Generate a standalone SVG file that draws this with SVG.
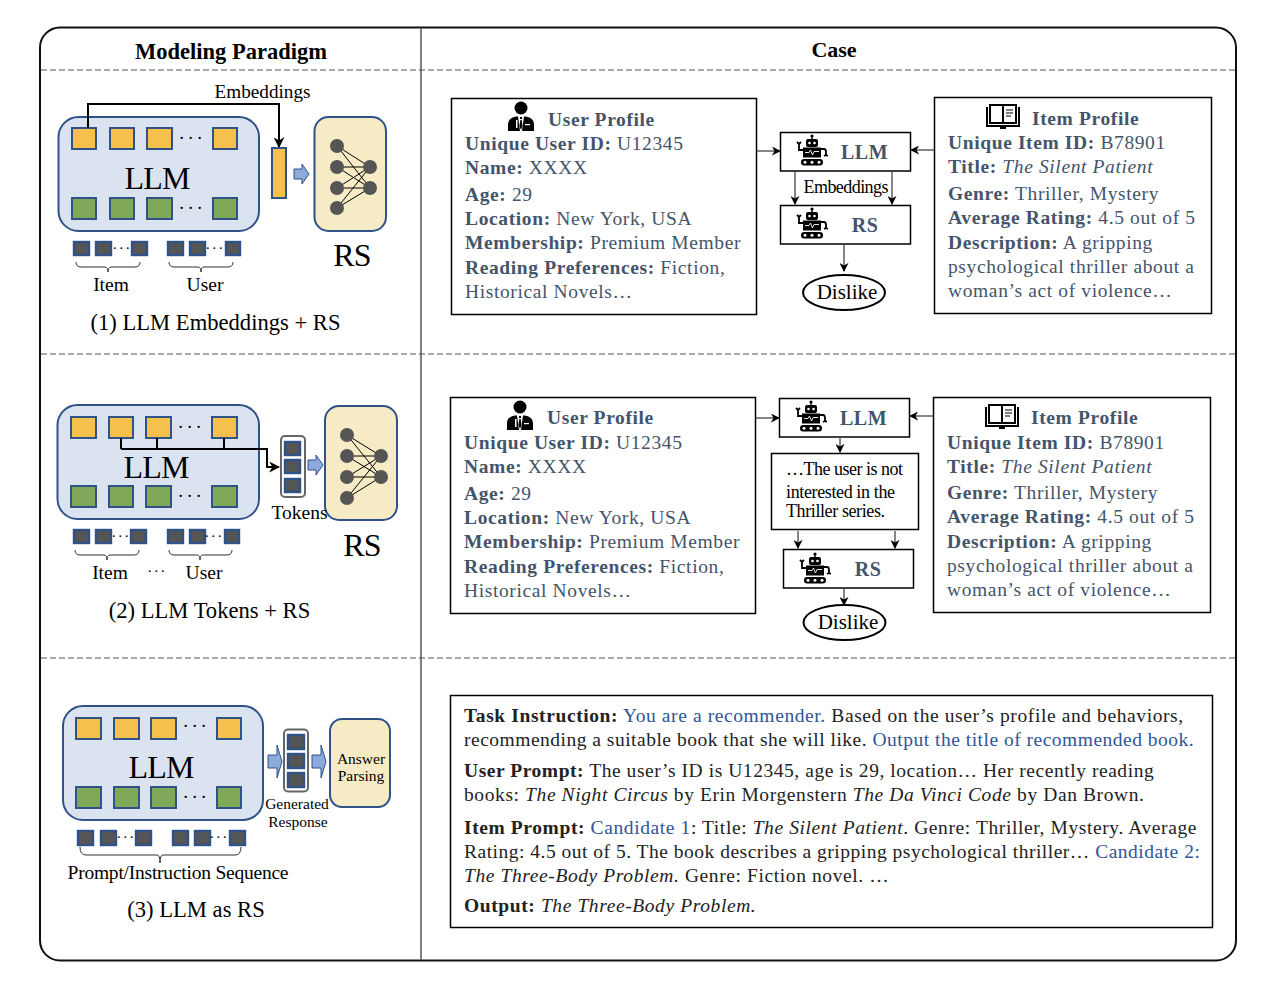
<svg xmlns="http://www.w3.org/2000/svg" xmlns:xlink="http://www.w3.org/1999/xlink" width="1272" height="1004" viewBox="0 0 1272 1004">
<style>
text{font-family:"Liberation Serif","Times New Roman",serif;fill:#000}
.frame{fill:none;stroke:#111;stroke-width:2}
.dash{fill:none;stroke:#555;stroke-width:1.2;stroke-dasharray:6 3}
.div{fill:none;stroke:#555;stroke-width:1.5}
.llm{fill:#dce3f0;stroke:#2f5288;stroke-width:2}
.rs{fill:#f7ebc6;stroke:#2f5288;stroke-width:2}
.o{fill:#f5c04c;stroke:#2f5288;stroke-width:2}
.g{fill:#7fa858;stroke:#2f5288;stroke-width:2}
.s{fill:#555;stroke:#2f5288;stroke-width:2.4}
.st{fill:#fff;stroke:#666;stroke-width:2}
.ba{fill:#8ea9db;stroke:#2f5288;stroke-width:1}
.box{fill:#fff;stroke:#000;stroke-width:1.5}
.ell{fill:#fff;stroke:#000;stroke-width:2}
.ln{fill:none;stroke:#000;stroke-width:2}
.th{fill:none;stroke:#000;stroke-width:1}
.gl{fill:none;stroke:#444;stroke-width:1.3}
.br{fill:none;stroke:#333;stroke-width:1}
.n{fill:#555}
.big{font-size:32px;letter-spacing:-.8px}
.lab{font-size:19.5px}
.cap{font-size:22.6px}
.dots{font-size:19px;letter-spacing:2.6px}
.sd{font-size:15px;letter-spacing:1.5px}
.hd{font-size:22.5px;font-weight:bold}
.p{font-size:19.5px;letter-spacing:.62px;fill:#44546a}
.p tspan.b,.pb{font-weight:bold}
.m{font-size:20px;font-weight:bold;fill:#44546a;letter-spacing:.5px}
.c{font-size:19.5px;letter-spacing:.6px;fill:#222}
.c5{letter-spacing:.5px}
.c55{letter-spacing:.55px}
.c tspan.b{font-weight:bold}
.c tspan.u{fill:#2f5597}
.c tspan.i,.p tspan.i{font-style:italic}
.t{text-anchor:middle}
</style>
<defs>
<marker id="a" viewBox="0 0 10 10" refX="9" refY="5" markerWidth="9" markerHeight="9" orient="auto" markerUnits="userSpaceOnUse"><path d="M0 0L10 5L0 10L3 5Z" fill="#000"/></marker>
<marker id="ab" viewBox="0 0 10 10" refX="9" refY="5" markerWidth="11" markerHeight="11" orient="auto" markerUnits="userSpaceOnUse"><path d="M0 0L10 5L0 10L3 5Z" fill="#000"/></marker>
<path id="arr" class="ba" d="M0 5H8V0L15 10L8 20V15H0Z"/>
<path id="arrt" class="ba" d="M0 10H9V0L14 16.500L9 33V23H0Z"/>
<symbol id="robot" viewBox="0 0 32 32">
<circle cx="16" cy="2" r="1.600" fill="#000"/><rect x="15.300" y="2" width="1.400" height="3" fill="#000"/>
<rect x="10" y="5" width="12" height="8" rx="2" fill="#000"/><circle cx="13.500" cy="9" r="1.300" fill="#fff"/><circle cx="18.500" cy="9" r="1.300" fill="#fff"/>
<rect x="7" y="13.500" width="18" height="10" fill="#000"/>
<path d="M9 18.500h4l1.500-2.500 2 5 1.500-3.500h5" fill="none" stroke="#fff" stroke-width=".9"/>
<path d="M7 16H3V10M1 8l2 2 2-2M25 15h3q2 0 2 3v3M28 22l2-1 2 1" fill="none" stroke="#000" stroke-width="1.800"/>
<rect x="5" y="25" width="22" height="6.500" rx="3.250" fill="#000"/>
<circle cx="9" cy="28.250" r="1.500" fill="#fff"/><circle cx="16" cy="28.250" r="1.500" fill="#fff"/><circle cx="23" cy="28.250" r="1.500" fill="#fff"/>
</symbol>
<symbol id="user" viewBox="0 0 28 30">
<circle cx="14" cy="7" r="6.500" fill="#000"/>
<path d="M1 30V23Q1 17 9 15.500L11 15.500L13 30ZM27 30V23Q27 17 19 15.500L17 15.500L15 30Z" fill="#000"/>
<rect x="13" y="16" width="2" height="2" fill="#000"/><path d="M13.300 19h1.400l.8 6-1.500 4-1.500-4z" fill="#000"/>
<rect x="18" y="23" width="5" height="1.200" fill="#fff"/><rect x="9" y="19" width="1.500" height="8" fill="#fff"/>
</symbol>
<symbol id="book" viewBox="0 0 34 25">
<path d="M1 3V22H33V3" fill="none" stroke="#000" stroke-width="2"/>
<rect x="4" y="1" width="13" height="18" fill="#fff" stroke="#000" stroke-width="2"/>
<rect x="17" y="1" width="13" height="18" fill="#fff" stroke="#000" stroke-width="2"/>
<path d="M20 6h7M20 9h7M20 12h5" stroke="#555" stroke-width="1.500" fill="none"/>
<rect x="14" y="22" width="6" height="3" fill="#000"/>
</symbol>
</defs>

<g id="frame">
<rect class="frame" x="40" y="27.500" width="1196" height="933" rx="20"/>
<path class="div" d="M421 28V960"/>
<path class="dash" d="M41 70H1235M41 354H1235M41 658H1235"/>
<text class="hd t" x="231" y="59">Modeling Paradigm</text>
<text class="hd t" x="834" y="57" style="font-size:22px">Case</text>
</g>

<g id="paradigm-1">
<rect class="llm" x="58.500" y="117" width="200.500" height="114" rx="20"/>
<rect class="o" x="72" y="128" width="24" height="21"/><rect class="o" x="110" y="128" width="24" height="21"/><rect class="o" x="147" y="128" width="25" height="21"/><rect class="o" x="213" y="128" width="24" height="21"/>
<rect class="g" x="72" y="198" width="24" height="21"/><rect class="g" x="110" y="198" width="24" height="21"/><rect class="g" x="147" y="198" width="25" height="21"/><rect class="g" x="213" y="198" width="24" height="21"/>
<text class="dots t" x="192" y="144">···</text><text class="dots t" x="192" y="214">···</text>
<text class="big t" x="157" y="189">LLM</text>
<path class="ln" d="M88 128V104H279V147" marker-end="url(#ab)"/>
<text class="lab t" x="262.500" y="98" style="font-size:19.200px">Embeddings</text>
<rect class="o" x="272" y="148" width="14" height="50"/>
<use href="#arr" x="294" y="164"/>
<rect class="rs" x="314.500" y="117" width="71.500" height="114" rx="14"/>
<path class="th" d="M337 146L370 167M337 146L370 188M337 167L370 167M337 167L370 188M337 188L370 167M337 188L370 188M337 208L370 167M337 208L370 188"/>
<circle class="n" cx="337" cy="146" r="7"/><circle class="n" cx="337" cy="167" r="7"/><circle class="n" cx="337" cy="188" r="7"/><circle class="n" cx="337" cy="208" r="7"/><circle class="n" cx="370" cy="167" r="7"/><circle class="n" cx="370" cy="188" r="7"/>
<text class="big t" x="352" y="266">RS</text>
<rect class="s" x="74" y="242" width="15" height="13"/><rect class="s" x="96" y="242" width="15" height="13"/><rect class="s" x="132" y="242" width="15" height="13"/>
<rect class="s" x="168" y="242" width="15" height="13"/><rect class="s" x="190" y="242" width="15" height="13"/><rect class="s" x="226" y="242" width="14" height="13"/>
<text class="sd t" x="122" y="253">···</text><text class="sd t" x="215" y="253">···</text>
<path class="br" d="M76 262q0 5 5 5H105q3 0 3 5q0-5 3-5H135q5 0 5-5M169 262q0 5 5 5H198q3 0 3 5q0-5 3-5H228q5 0 5-5"/>
<text class="lab t" x="111" y="291">Item</text><text class="lab t" x="205" y="291">User</text>
<text class="cap t" x="215.500" y="330">(1) LLM Embeddings + RS</text>
</g>

<g id="paradigm-2">
<rect class="llm" x="57.500" y="405" width="201.500" height="114" rx="20"/>
<rect class="o" x="71" y="417" width="25" height="21"/><rect class="o" x="109" y="417" width="24" height="21"/><rect class="o" x="146" y="417" width="25" height="21"/><rect class="o" x="212" y="417" width="25" height="21"/>
<rect class="g" x="71" y="486" width="25" height="21"/><rect class="g" x="109" y="486" width="24" height="21"/><rect class="g" x="146" y="486" width="25" height="21"/><rect class="g" x="212" y="486" width="25" height="21"/>
<text class="dots t" x="191" y="433">···</text><text class="dots t" x="191" y="502">···</text>
<text class="big t" x="156" y="478">LLM</text>
<path class="ln" d="M121 438V449M157 438V449M224 438V449M121 449H267V467H279" marker-end="url(#ab)"/>
<rect class="st" x="281" y="436" width="24" height="61" rx="4"/>
<rect class="s" x="285" y="442" width="15" height="13"/><rect class="s" x="285" y="460" width="15" height="13"/><rect class="s" x="285" y="479" width="15" height="13"/>
<use href="#arr" x="308" y="455"/>
<rect class="rs" x="325" y="406" width="72" height="114" rx="14"/>
<path class="th" d="M347 435L381 456M347 435L381 477M347 456L381 456M347 456L381 477M347 477L381 456M347 477L381 477M347 498L381 456M347 498L381 477"/>
<circle class="n" cx="347" cy="435" r="7"/><circle class="n" cx="347" cy="456" r="7"/><circle class="n" cx="347" cy="477" r="7"/><circle class="n" cx="347" cy="498" r="7"/><circle class="n" cx="381" cy="456" r="7"/><circle class="n" cx="381" cy="477" r="7"/>
<text class="lab t" x="299.500" y="519">Tokens</text>
<text class="big t" x="362" y="556">RS</text>
<rect class="s" x="74" y="530" width="15" height="13"/><rect class="s" x="96" y="530" width="15" height="13"/><rect class="s" x="131" y="530" width="15" height="13"/>
<rect class="s" x="168" y="530" width="15" height="13"/><rect class="s" x="190" y="530" width="15" height="13"/><rect class="s" x="225" y="530" width="14" height="13"/>
<text class="sd t" x="121" y="541">···</text><text class="sd t" x="214" y="541">···</text>
<path class="br" d="M75 550q0 5 5 5H104q3 0 3 5q0-5 3-5H134q5 0 5-5M169 550q0 5 5 5H197q3 0 3 5q0-5 3-5H227q5 0 5-5"/>
<text class="lab t" x="110" y="579">Item</text><text class="sd t" x="157" y="576">···</text><text class="lab t" x="204" y="579">User</text>
<text class="cap t" x="209.500" y="618">(2) LLM Tokens + RS</text>
</g>

<g id="paradigm-3">
<rect class="llm" x="63" y="706" width="200" height="114" rx="20"/>
<rect class="o" x="76" y="718" width="25" height="21"/><rect class="o" x="114" y="718" width="25" height="21"/><rect class="o" x="151" y="718" width="25" height="21"/><rect class="o" x="217" y="718" width="24" height="21"/>
<rect class="g" x="76" y="787" width="25" height="21"/><rect class="g" x="114" y="787" width="25" height="21"/><rect class="g" x="151" y="787" width="25" height="21"/><rect class="g" x="217" y="787" width="24" height="21"/>
<text class="dots t" x="196" y="732">···</text><text class="dots t" x="196" y="803">···</text>
<text class="big t" x="161" y="778">LLM</text>
<use href="#arrt" x="268" y="745"/>
<rect class="st" x="284" y="729.500" width="24" height="62" rx="4"/>
<rect class="s" x="288" y="735" width="16" height="14"/><rect class="s" x="288" y="754" width="16" height="14"/><rect class="s" x="288" y="773" width="16" height="14"/>
<use href="#arrt" x="312" y="745"/>
<rect class="rs" x="330" y="719" width="60" height="88" rx="12"/>
<text class="t" x="361" y="764" style="font-size:15.500px">Answer</text><text class="t" x="361" y="781" style="font-size:15.500px">Parsing</text>
<text class="t" x="297" y="809" style="font-size:15.500px">Generated</text><text class="t" x="298" y="827" style="font-size:15.500px">Response</text>
<rect class="s" x="78" y="831" width="15" height="14"/><rect class="s" x="101" y="831" width="15" height="14"/><rect class="s" x="136" y="831" width="15" height="14"/>
<rect class="s" x="173" y="831" width="15" height="14"/><rect class="s" x="195" y="831" width="15" height="14"/><rect class="s" x="230" y="831" width="15" height="14"/>
<text class="sd t" x="126" y="842">···</text><text class="sd t" x="219" y="842">···</text>
<path class="br" d="M80 847q0 8 6 8H157q3 0 3 8q0-8 3-8H235q6 0 6-8"/>
<text class="lab t" x="178" y="879" textLength="221">Prompt/Instruction Sequence</text>
<text class="cap t" x="196" y="917">(3) LLM as RS</text>
</g>

<g id="user-profile-1">
<rect class="box" x="451.500" y="98.500" width="305" height="216"/>
<use href="#user" x="507" y="101" width="28" height="30"/>
<text class="p pb" x="548" y="126">User Profile</text>
<text class="p" x="465" y="150"><tspan class="b">Unique User ID:</tspan> U12345</text>
<text class="p" x="465" y="174"><tspan class="b">Name:</tspan> XXXX</text>
<text class="p" x="465" y="201"><tspan class="b">Age:</tspan> 29</text>
<text class="p" x="465" y="225"><tspan class="b">Location:</tspan> New York, USA</text>
<text class="p" x="465" y="249"><tspan class="b">Membership:</tspan> Premium Member</text>
<text class="p" x="465" y="274"><tspan class="b">Reading Preferences:</tspan> Fiction,</text>
<text class="p" x="465" y="298">Historical Novels…</text>
</g>
<g id="item-profile-1">
<rect class="box" x="934.500" y="97.500" width="277" height="216"/>
<use href="#book" x="986" y="104" width="34" height="25"/>
<text class="p pb" x="1032" y="125">Item Profile</text>
<text class="p" x="948" y="149"><tspan class="b">Unique Item ID:</tspan> B78901</text>
<text class="p" x="948" y="173"><tspan class="b">Title:</tspan> <tspan class="i">The Silent Patient</tspan></text>
<text class="p" x="948" y="200"><tspan class="b">Genre:</tspan> Thriller, Mystery</text>
<text class="p" x="948" y="224"><tspan class="b">Average Rating:</tspan> 4.5 out of 5</text>
<text class="p" x="948" y="249"><tspan class="b">Description:</tspan> A gripping</text>
<text class="p" x="948" y="273">psychological thriller about a</text>
<text class="p" x="948" y="297">woman’s act of violence…</text>
</g>
<g id="llm-1"><rect class="box" x="780.500" y="132.500" width="130" height="38.500"/><use href="#robot" x="796" y="134" width="32" height="32"/><text class="m t" x="864.500" y="159">LLM</text></g>
<g id="rs-1"><rect class="box" x="780.500" y="205.500" width="130" height="38.500"/><use href="#robot" x="796" y="207" width="32" height="32"/><text class="m t" x="865" y="232">RS</text></g>
<g id="dislike-1"><ellipse class="ell" cx="844" cy="292.500" rx="41" ry="17.500"/><text class="t" x="847" y="299" style="font-size:21px">Dislike</text></g>
<g id="connectors-1">
<path class="gl" d="M757 151H780" marker-end="url(#a)"/>
<path class="gl" d="M934 150H911" marker-end="url(#a)"/>
<path class="gl" d="M795 171V204" marker-end="url(#a)"/>
<path class="gl" d="M892 171V204" marker-end="url(#a)"/>
<path class="gl" d="M844 244V271" marker-end="url(#a)"/>
<text class="t" x="846" y="193" style="font-size:18px" textLength="85">Embeddings</text>
</g>

<g id="user-profile-2">
<rect class="box" x="450.500" y="397.500" width="305" height="216"/>
<use href="#user" x="506" y="400" width="28" height="30"/>
<text class="p pb" x="547" y="424">User Profile</text>
<text class="p" x="464" y="449"><tspan class="b">Unique User ID:</tspan> U12345</text>
<text class="p" x="464" y="473"><tspan class="b">Name:</tspan> XXXX</text>
<text class="p" x="464" y="500"><tspan class="b">Age:</tspan> 29</text>
<text class="p" x="464" y="524"><tspan class="b">Location:</tspan> New York, USA</text>
<text class="p" x="464" y="548"><tspan class="b">Membership:</tspan> Premium Member</text>
<text class="p" x="464" y="573"><tspan class="b">Reading Preferences:</tspan> Fiction,</text>
<text class="p" x="464" y="597">Historical Novels…</text>
</g>
<g id="item-profile-2">
<rect class="box" x="933.500" y="397.500" width="277" height="215"/>
<use href="#book" x="985" y="404" width="34" height="25"/>
<text class="p pb" x="1031" y="424">Item Profile</text>
<text class="p" x="947" y="449"><tspan class="b">Unique Item ID:</tspan> B78901</text>
<text class="p" x="947" y="473"><tspan class="b">Title:</tspan> <tspan class="i">The Silent Patient</tspan></text>
<text class="p" x="947" y="499"><tspan class="b">Genre:</tspan> Thriller, Mystery</text>
<text class="p" x="947" y="523"><tspan class="b">Average Rating:</tspan> 4.5 out of 5</text>
<text class="p" x="947" y="548"><tspan class="b">Description:</tspan> A gripping</text>
<text class="p" x="947" y="572">psychological thriller about a</text>
<text class="p" x="947" y="596">woman’s act of violence…</text>
</g>
<g id="llm-2"><rect class="box" x="779.500" y="398.500" width="130" height="38.500"/><use href="#robot" x="795" y="400" width="32" height="32"/><text class="m t" x="863.500" y="425">LLM</text></g>
<g id="text-2"><rect class="box" x="771.500" y="453.500" width="147" height="76"/>
<text x="786" y="475" style="font-size:18px" textLength="117">…The user is not</text>
<text x="786" y="498" style="font-size:18px" textLength="109">interested in the</text>
<text x="786" y="517" style="font-size:18px" textLength="99">Thriller series.</text></g>
<g id="rs-2"><rect class="box" x="783.500" y="549.500" width="130" height="38.500"/><use href="#robot" x="799" y="552" width="32" height="32"/><text class="m t" x="868" y="576">RS</text></g>
<g id="dislike-2"><ellipse class="ell" cx="844.500" cy="622.500" rx="41" ry="17.500"/><text class="t" x="848" y="629" style="font-size:21px">Dislike</text></g>
<g id="connectors-2">
<path class="gl" d="M756 418H779" marker-end="url(#a)"/>
<path class="gl" d="M933 416H910" marker-end="url(#a)"/>
<path class="gl" d="M840 437V452" marker-end="url(#a)"/>
<path class="gl" d="M798 531V548" marker-end="url(#a)"/>
<path class="gl" d="M895 531V548" marker-end="url(#a)"/>
<path class="gl" d="M844 588V605" marker-end="url(#a)"/>
</g>

<g id="prompt">
<rect class="box" x="450.500" y="695.500" width="762" height="232"/>
<text class="c" x="464" y="722"><tspan class="b">Task Instruction:</tspan> <tspan class="u">You are a recommender.</tspan> Based on the user’s profile and behaviors,</text>
<text class="c c5" x="464" y="746">recommending a suitable book that she will like. <tspan class="u">Output the title of recommended book.</tspan></text>
<text class="c c55" x="464" y="777"><tspan class="b">User Prompt:</tspan> The user’s ID is U12345, age is 29, location… Her recently reading</text>
<text class="c" x="464" y="801">books: <tspan class="i">The Night Circus</tspan> by Erin Morgenstern <tspan class="i">The Da Vinci Code</tspan> by Dan Brown.</text>
<text class="c" x="464" y="834"><tspan class="b">Item Prompt:</tspan> <tspan class="u">Candidate 1</tspan>: Title: <tspan class="i">The Silent Patient</tspan>. Genre: Thriller, Mystery. Average</text>
<text class="c c5" x="464" y="858">Rating: 4.5 out of 5. The book describes a gripping psychological thriller… <tspan class="u">Candidate 2:</tspan></text>
<text class="c" x="464" y="882"><tspan class="i">The Three-Body Problem.</tspan> Genre: Fiction novel. …</text>
<text class="c" x="464" y="912"><tspan class="b">Output:</tspan> <tspan class="i">The Three-Body Problem.</tspan></text>
</g>
</svg>
